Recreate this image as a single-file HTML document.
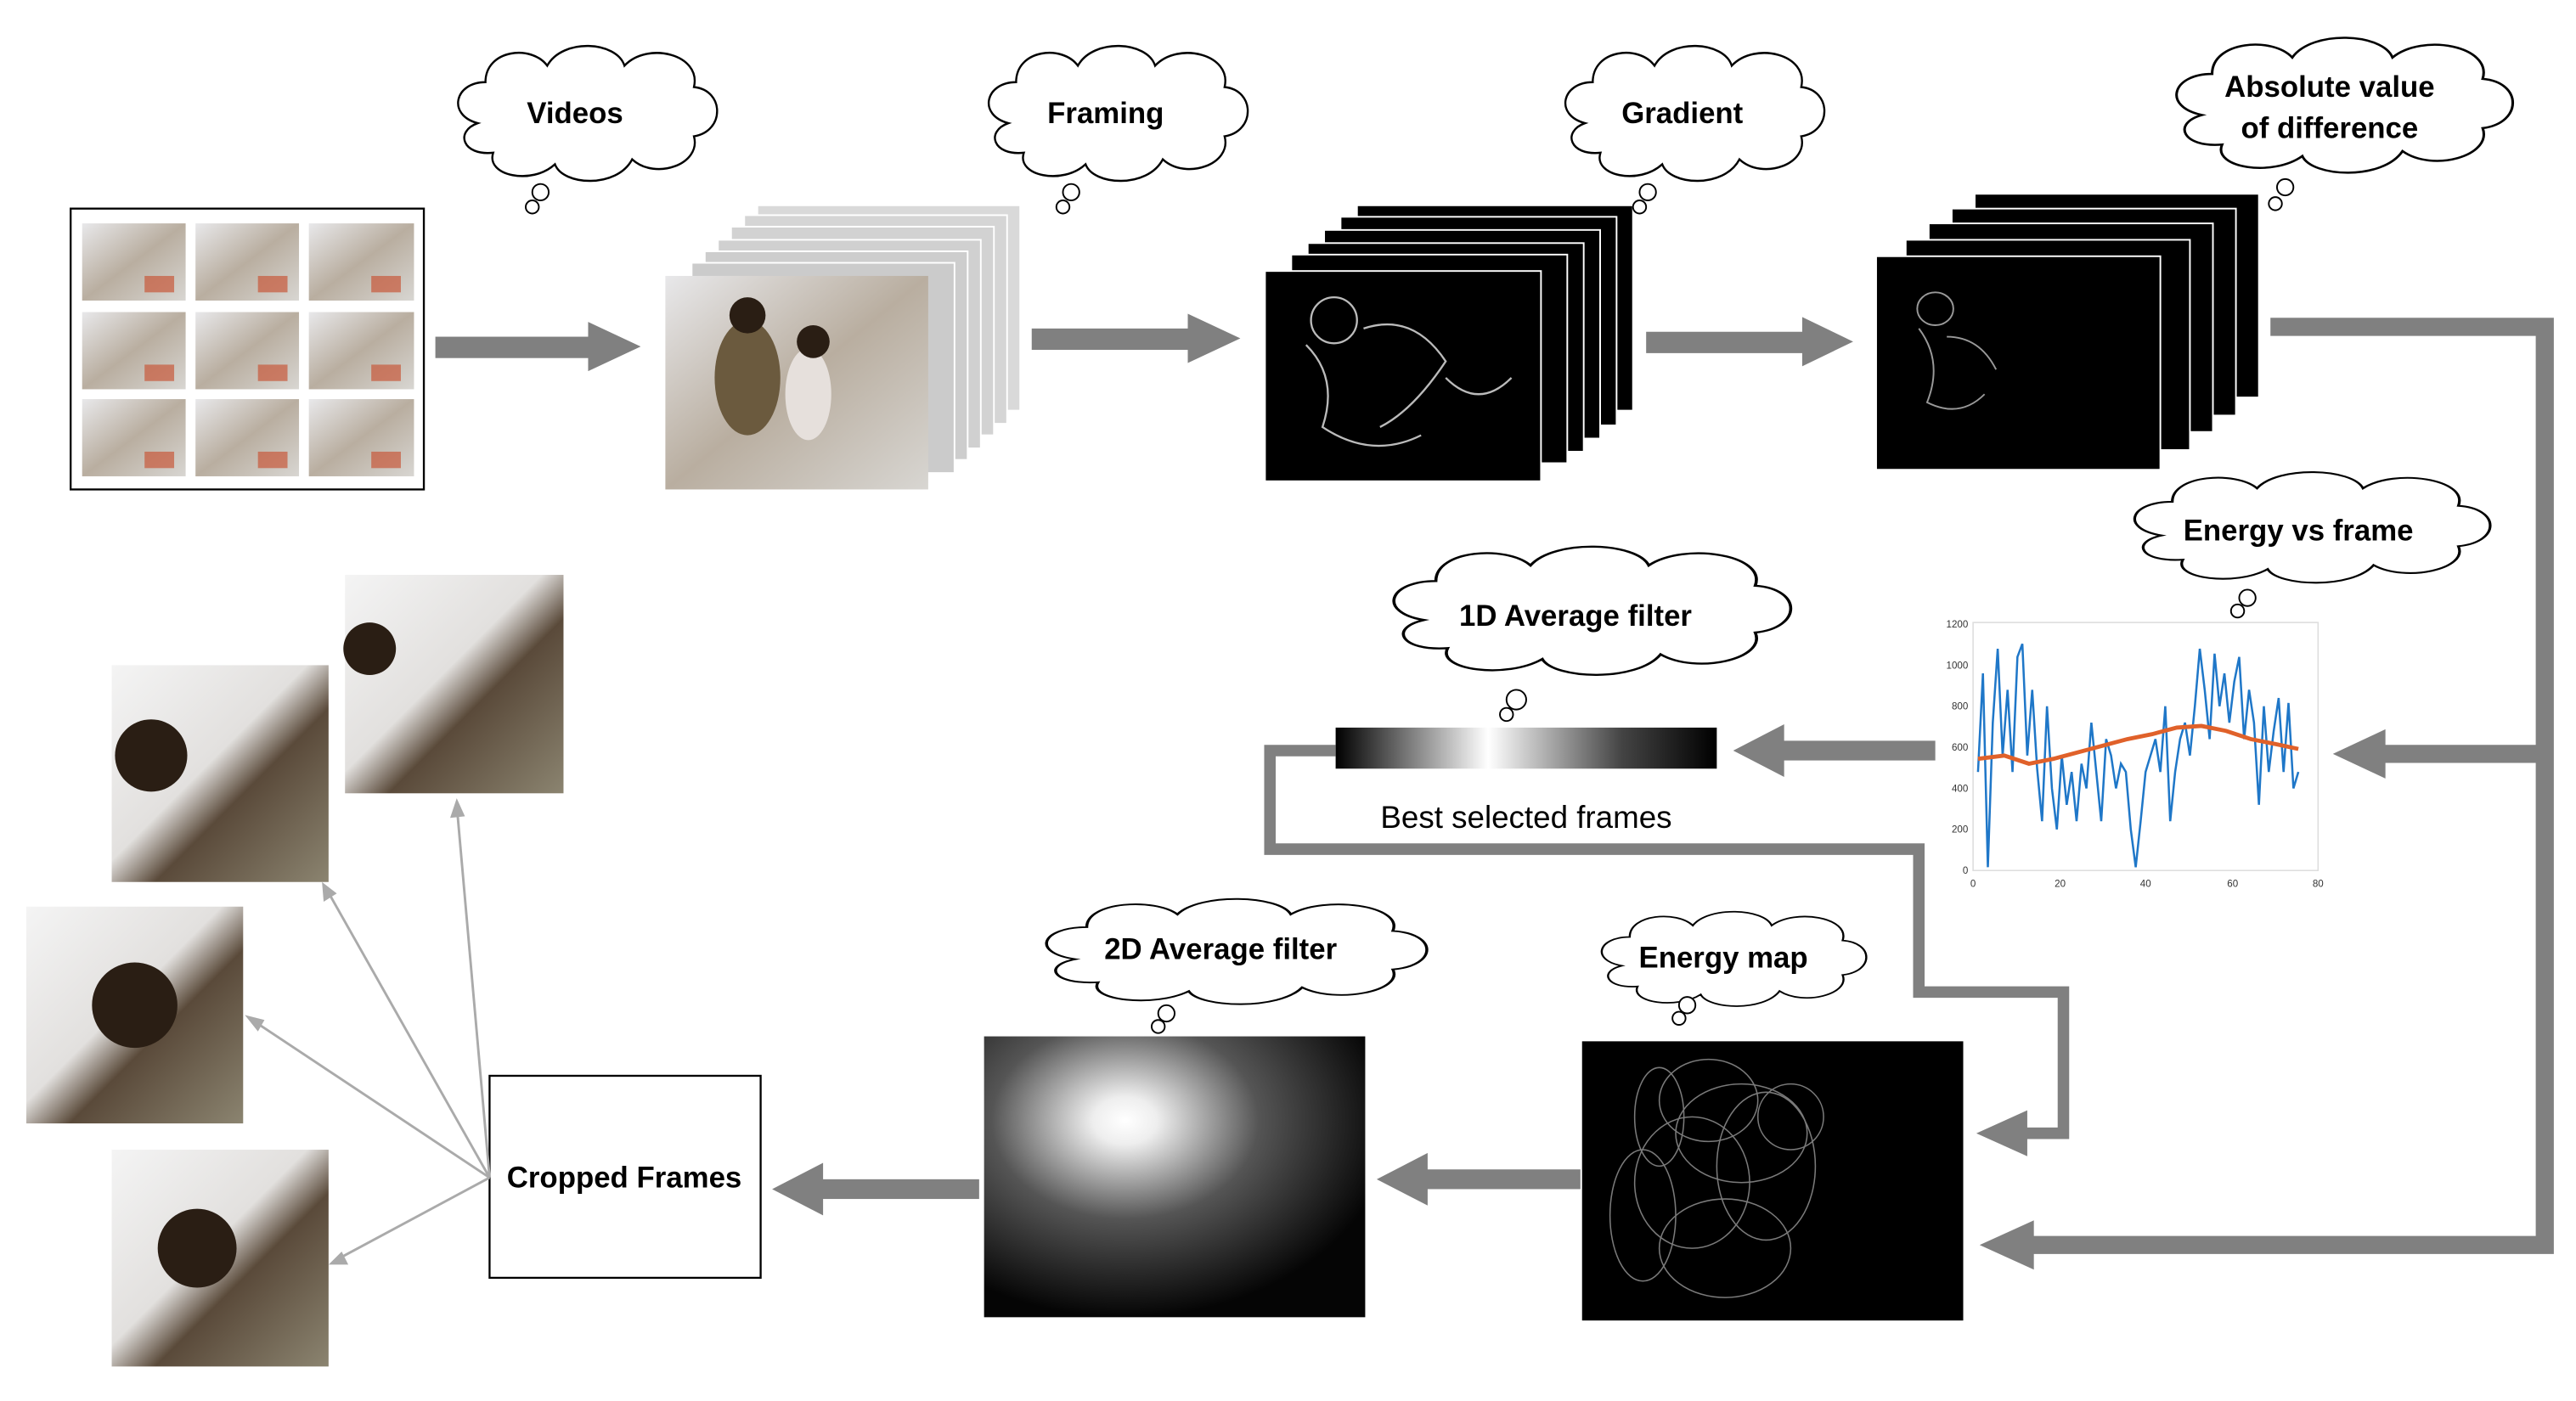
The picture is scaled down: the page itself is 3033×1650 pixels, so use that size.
<!DOCTYPE html>
<html><head><meta charset="utf-8"><style>
html,body{margin:0;padding:0;background:#fff;}
svg{display:block;}
text{font-family:"Liberation Sans",sans-serif;}
</style></head><body>
<svg width="3033" height="1650" viewBox="0 0 1568 853" xmlns="http://www.w3.org/2000/svg">
<defs>
<radialGradient id="rg" cx="0.37" cy="0.3" r="0.7">
<stop offset="0" stop-color="#fff"/><stop offset="0.12" stop-color="#eee"/><stop offset="0.5" stop-color="#555"/><stop offset="1" stop-color="#050505"/>
</radialGradient>
<linearGradient id="lg" x1="0" x2="1" y1="0" y2="0">
<stop offset="0" stop-color="#000"/><stop offset="0.4" stop-color="#fff"/><stop offset="0.75" stop-color="#444"/><stop offset="1" stop-color="#000"/>
</linearGradient>
<linearGradient id="ph" x1="0" x2="1" y1="0" y2="1">
<stop offset="0" stop-color="#e8e8ea"/><stop offset="0.5" stop-color="#b9aea0"/><stop offset="1" stop-color="#d8d6d2"/>
</linearGradient>
<linearGradient id="kid" x1="0" x2="1" y1="0" y2="1">
<stop offset="0" stop-color="#f4f4f4"/><stop offset="0.45" stop-color="#e2e0de"/><stop offset="0.6" stop-color="#5a4a3a"/><stop offset="1" stop-color="#8b8470"/>
</linearGradient>
<g id="cloudshape">
<path d="M20,50 C0,45 5,25 25,25 C25,5 55,2 65,15 C75,-2 110,0 115,15 C130,0 165,8 160,28 C180,30 180,55 160,58 C165,75 135,85 120,72 C110,90 75,88 70,75 C55,88 25,82 30,68 C10,70 5,55 20,50 Z" fill="#fff" stroke="#000" stroke-width="1.3"/>
</g>
</defs>

<!-- Videos grid -->
<rect x="43" y="127" width="215" height="171" fill="#fff" stroke="#000" stroke-width="1.2"/>
<g fill="url(#ph)">
<rect x="50" y="136" width="63" height="47"/><rect x="119" y="136" width="63" height="47"/><rect x="188" y="136" width="64" height="47"/>
<rect x="50" y="190" width="63" height="47"/><rect x="119" y="190" width="63" height="47"/><rect x="188" y="190" width="64" height="47"/>
<rect x="50" y="243" width="63" height="47"/><rect x="119" y="243" width="63" height="47"/><rect x="188" y="243" width="64" height="47"/>
</g>
<g fill="#c8593a" opacity="0.7">
<rect x="88" y="168" width="18" height="10"/><rect x="157" y="168" width="18" height="10"/><rect x="226" y="168" width="18" height="10"/>
<rect x="88" y="222" width="18" height="10"/><rect x="157" y="222" width="18" height="10"/><rect x="226" y="222" width="18" height="10"/>
<rect x="88" y="275" width="18" height="10"/><rect x="157" y="275" width="18" height="10"/><rect x="226" y="275" width="18" height="10"/>
</g>

<!-- arrows top -->
<g fill="#808080">
<rect x="265" y="205" width="95" height="13"/><polygon points="358,196 390,211 358,226"/>
<rect x="628" y="200" width="97" height="13"/><polygon points="723,191 755,206 723,221"/>
<rect x="1002" y="202" width="97" height="13"/><polygon points="1097,193 1128,208 1097,223"/>
</g>

<!-- Framing stack -->
<g stroke="#fff" stroke-width="1">
<rect x="461" y="125" width="160" height="125" fill="#d9d9d9"/>
<rect x="453" y="131" width="160" height="127" fill="#d5d5d5"/>
<rect x="445" y="138" width="160" height="127" fill="#d2d2d2"/>
<rect x="437" y="146" width="160" height="127" fill="#d0d0d0"/>
<rect x="429" y="153" width="160" height="127" fill="#cdcdcd"/>
<rect x="421" y="160" width="160" height="128" fill="#cbcbcb"/>
</g>
<rect x="405" y="168" width="160" height="130" fill="url(#ph)"/>
<ellipse cx="455" cy="230" rx="20" ry="35" fill="#6b5a3e"/>
<ellipse cx="492" cy="240" rx="14" ry="28" fill="#e6e0dc"/>
<circle cx="455" cy="192" r="11" fill="#2a1e14"/><circle cx="495" cy="208" r="10" fill="#2a1e14"/>

<!-- Gradient stack -->
<g stroke="#fff" stroke-width="1" fill="#000">
<rect x="826" y="125" width="168" height="125"/>
<rect x="816" y="132" width="168" height="127"/>
<rect x="806" y="140" width="168" height="127"/>
<rect x="796" y="148" width="168" height="127"/>
<rect x="786" y="155" width="168" height="127"/>
<rect x="770" y="165" width="168" height="128"/>
</g>
<g fill="none" stroke="#bbb" stroke-width="1.2">
<ellipse cx="812" cy="195" rx="14" ry="14"/><path d="M795,210 q20,20 10,50 q30,20 60,5 M830,200 q30,-10 50,20 q-20,30 -40,40"/>
<path d="M880,230 q20,20 40,0"/>
</g>

<!-- Abs diff stack -->
<g stroke="#fff" stroke-width="1" fill="#000">
<rect x="1202" y="118" width="173" height="124"/>
<rect x="1188" y="127" width="173" height="126"/>
<rect x="1174" y="136" width="173" height="127"/>
<rect x="1160" y="146" width="173" height="128"/>
<rect x="1142" y="156" width="173" height="130"/>
</g>
<g fill="none" stroke="#999" stroke-width="1">
<ellipse cx="1178" cy="188" rx="11" ry="10"/><path d="M1168,200 q15,20 5,45 q20,10 35,-5 M1185,205 q20,0 30,20"/>
</g>

<!-- right thick connector -->
<g fill="none" stroke="#808080" stroke-width="11">
<polyline points="1382,199 1549,199 1549,758 1235,758"/>
<line x1="1549" y1="459" x2="1450" y2="459"/>
</g>
<g fill="#808080">
<polygon points="1238,743 1205,758 1238,773"/>
<polygon points="1452,444 1420,459 1452,474"/>
</g>

<!-- chart -->
<rect x="1201" y="379" width="210" height="151" fill="#fff" stroke="#ddd" stroke-width="0.8"/>
<g font-size="6" fill="#333" text-anchor="end">
<text x="1198" y="382">1200</text><text x="1198" y="407">1000</text><text x="1198" y="432">800</text><text x="1198" y="457">600</text><text x="1198" y="482">400</text><text x="1198" y="507">200</text><text x="1198" y="532">0</text>
</g>
<g font-size="6" fill="#333" text-anchor="middle">
<text x="1201" y="540">0</text><text x="1254" y="540">20</text><text x="1306" y="540">40</text><text x="1359" y="540">60</text><text x="1411" y="540">80</text>
</g>
<polyline fill="none" stroke="#1f77c8" stroke-width="1.3" points="1204,470 1207,410 1210,528 1213,440 1216,395 1219,460 1222,420 1225,470 1228,400 1231,392 1234,460 1237,420 1240,468 1243,500 1246,430 1249,480 1252,505 1255,460 1258,490 1261,470 1264,500 1267,465 1270,480 1273,440 1276,470 1279,500 1282,450 1285,460 1288,480 1291,465 1294,470 1297,505 1300,528 1303,500 1306,470 1309,460 1312,450 1315,470 1318,430 1321,500 1324,470 1327,450 1330,440 1333,460 1336,430 1339,395 1342,420 1345,450 1348,398 1351,430 1354,410 1357,440 1360,415 1363,400 1366,450 1369,420 1372,440 1375,490 1378,430 1381,470 1384,445 1387,425 1390,470 1393,428 1396,480 1399,470"/>
<polyline fill="none" stroke="#e0612a" stroke-width="2.5" points="1204,462 1220,460 1235,465 1250,462 1265,458 1280,454 1295,450 1310,447 1325,443 1340,442 1355,445 1370,450 1385,453 1399,456"/>

<!-- 1D filter bar & arrow -->
<rect x="813" y="443" width="232" height="25" fill="url(#lg)"/>
<g fill="#808080">
<rect x="1083" y="451" width="95" height="12"/><polygon points="1086,441 1055,457 1086,473"/>
</g>
<text x="929" y="504" font-size="19" text-anchor="middle" fill="#000">Best selected frames</text>
<polyline fill="none" stroke="#808080" stroke-width="7" points="813,457 773,457 773,517 1168,517 1168,604 1256,604 1256,690 1232,690"/>
<polygon fill="#808080" points="1234,676 1203,690 1234,704"/>

<!-- Energy map -->
<rect x="963" y="634" width="232" height="170" fill="#000"/>
<g fill="none" stroke="#999" stroke-width="0.8" opacity="0.8">
<ellipse cx="1040" cy="670" rx="30" ry="25"/><ellipse cx="1060" cy="690" rx="40" ry="30"/><ellipse cx="1030" cy="720" rx="35" ry="40"/>
<ellipse cx="1075" cy="710" rx="30" ry="45"/><ellipse cx="1010" cy="680" rx="15" ry="30"/><ellipse cx="1050" cy="760" rx="40" ry="30"/>
<ellipse cx="1090" cy="680" rx="20" ry="20"/><ellipse cx="1000" cy="740" rx="20" ry="40"/>
</g>

<!-- arrows bottom -->
<g fill="#808080">
<rect x="866" y="712" width="96" height="12"/><polygon points="869,702 838,718 869,734"/>
<rect x="498" y="718" width="98" height="12"/><polygon points="501,708 470,724 501,740"/>
</g>

<!-- 2D filter -->
<rect x="599" y="631" width="232" height="171" fill="url(#rg)"/>

<!-- Cropped frames box -->
<rect x="298" y="655" width="165" height="123" fill="#fff" stroke="#000" stroke-width="1.2"/>
<text x="380" y="723" font-size="18" font-weight="bold" text-anchor="middle">Cropped Frames</text>

<!-- crops -->
<rect x="210" y="350" width="133" height="133" fill="url(#kid)"/>
<rect x="68" y="405" width="132" height="132" fill="url(#kid)"/>
<rect x="16" y="552" width="132" height="132" fill="url(#kid)"/>
<rect x="68" y="700" width="132" height="132" fill="url(#kid)"/>
<circle cx="225" cy="395" r="16" fill="#2a1e14"/><circle cx="92" cy="460" r="22" fill="#2a1e14"/>
<circle cx="82" cy="612" r="26" fill="#2a1e14"/><circle cx="120" cy="760" r="24" fill="#2a1e14"/>

<!-- thin arrows -->
<g stroke="#aaa" stroke-width="1.5" fill="none">
<line x1="298" y1="717" x2="278" y2="490"/>
<line x1="298" y1="717" x2="198" y2="540"/>
<line x1="298" y1="717" x2="152" y2="620"/>
<line x1="298" y1="717" x2="203" y2="768"/>
</g>
<g fill="#aaa">
<polygon points="278,486 274,498 283,497"/>
<polygon points="196,537 197,549 205,544"/>
<polygon points="149,618 157,628 161,621"/>
<polygon points="200,770 212,770 208,762"/>
</g>

<!-- clouds -->
<g transform="translate(272,25) scale(0.94,1.0)"><use href="#cloudshape"/></g>
<circle cx="329" cy="117" r="5" fill="#fff" stroke="#000"/><circle cx="324" cy="126" r="4" fill="#fff" stroke="#000"/>
<text x="350" y="75" font-size="18" font-weight="bold" text-anchor="middle">Videos</text>

<g transform="translate(595,25) scale(0.94,1.0)"><use href="#cloudshape"/></g>
<circle cx="652" cy="117" r="5" fill="#fff" stroke="#000"/><circle cx="647" cy="126" r="4" fill="#fff" stroke="#000"/>
<text x="673" y="75" font-size="18" font-weight="bold" text-anchor="middle">Framing</text>

<g transform="translate(946,25) scale(0.94,1.0)"><use href="#cloudshape"/></g>
<circle cx="1003" cy="117" r="5" fill="#fff" stroke="#000"/><circle cx="998" cy="126" r="4" fill="#fff" stroke="#000"/>
<text x="1024" y="75" font-size="18" font-weight="bold" text-anchor="middle">Gradient</text>

<g transform="translate(1316,20) scale(1.22,1.0)"><use href="#cloudshape"/></g>
<circle cx="1391" cy="114" r="5" fill="#fff" stroke="#000"/><circle cx="1385" cy="124" r="4" fill="#fff" stroke="#000"/>
<text x="1418" y="59" font-size="18" font-weight="bold" text-anchor="middle">Absolute value</text>
<text x="1418" y="84" font-size="18" font-weight="bold" text-anchor="middle">of difference</text>

<g transform="translate(1290,285) scale(1.29,0.82)"><use href="#cloudshape"/></g>
<circle cx="1368" cy="364" r="5" fill="#fff" stroke="#000"/><circle cx="1362" cy="372" r="4" fill="#fff" stroke="#000"/>
<text x="1399" y="329" font-size="18" font-weight="bold" text-anchor="middle">Energy vs frame</text>

<g transform="translate(838,330) scale(1.44,0.95)"><use href="#cloudshape"/></g>
<circle cx="923" cy="426" r="6" fill="#fff" stroke="#000"/><circle cx="917" cy="435" r="4" fill="#fff" stroke="#000"/>
<text x="959" y="381" font-size="18" font-weight="bold" text-anchor="middle">1D Average filter</text>

<g transform="translate(627,545) scale(1.38,0.78)"><use href="#cloudshape"/></g>
<circle cx="710" cy="617" r="5" fill="#fff" stroke="#000"/><circle cx="705" cy="625" r="4" fill="#fff" stroke="#000"/>
<text x="743" y="584" font-size="18" font-weight="bold" text-anchor="middle">2D Average filter</text>

<g transform="translate(968,553) scale(0.96,0.7)"><use href="#cloudshape"/></g>
<circle cx="1027" cy="612" r="5" fill="#fff" stroke="#000"/><circle cx="1022" cy="620" r="4" fill="#fff" stroke="#000"/>
<text x="1049" y="589" font-size="18" font-weight="bold" text-anchor="middle">Energy map</text>
</svg>
</body></html>
